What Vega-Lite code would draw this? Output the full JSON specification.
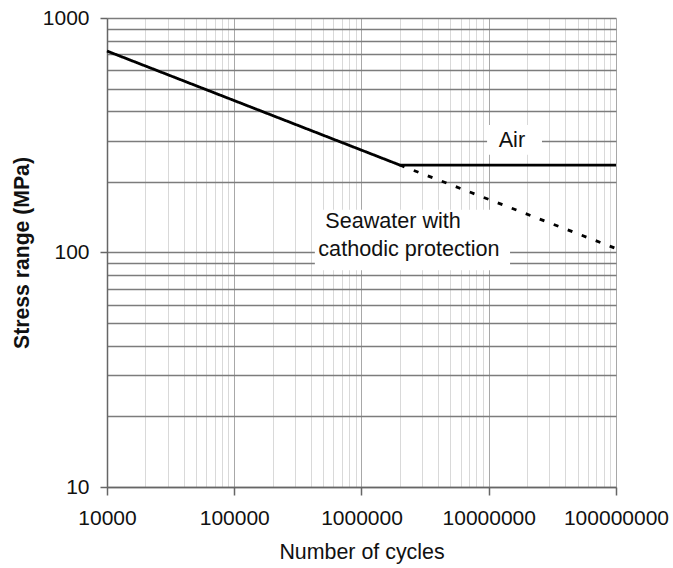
{
  "$schema": "https://vega.github.io/schema/vega-lite/v6.json",
  "width": 509,
  "height": 469,
  "autosize": {"type": "none"},
  "padding": {"left": 107, "top": 18, "right": 57, "bottom": 81},
  "background": "white",
  "config": {"view": {"stroke": null}, "font": "Liberation Sans"},
  "encoding": {
    "x": {
      "field": "cycles",
      "type": "quantitative",
      "title": "Number of cycles",
      "scale": {"type": "log", "domain": [10000, 100000000]},
      "axis": {
        "values": [10000, 20000, 30000, 40000, 50000, 60000, 70000, 80000, 90000, 100000, 200000, 300000, 400000, 500000, 600000, 700000, 800000, 900000, 1000000, 2000000, 3000000, 4000000, 5000000, 6000000, 7000000, 8000000, 9000000, 10000000, 20000000, 30000000, 40000000, 50000000, 60000000, 70000000, 80000000, 90000000, 100000000],
        "labelExpr": "indexof([10000,100000,1000000,10000000,100000000], datum.value) >= 0 ? datum.value + '' : ''",
        "labelOverlap": false,
        "labelFlush": false,
        "labelBound": false,
        "labelFontSize": 21,
        "labelColor": "#111",
        "labelPadding": 12,
        "grid": true,
        "gridColor": {"condition": {"test": "indexof([10000,100000,1000000,10000000,100000000], datum.value) >= 0", "value": "#a8a8a8"}, "value": "#d9d9d9"},
        "gridWidth": 1,
        "tickOpacity": {"condition": {"test": "indexof([10000,100000,1000000,10000000,100000000], datum.value) >= 0", "value": 1}, "value": 0},
        "tickColor": "#666",
        "tickWidth": 1.5,
        "tickSize": 8,
        "domainColor": "#666",
        "domainWidth": 1.5,
        "titleFontSize": 21.4,
        "titleFontWeight": "normal",
        "titleColor": "#111",
        "titleY": 65,
        "titleBaseline": "middle"
      }
    },
    "y": {
      "field": "stress",
      "type": "quantitative",
      "title": "Stress range (MPa)",
      "scale": {"type": "log", "domain": [10, 1000]},
      "axis": {
        "values": [10, 20, 30, 40, 50, 60, 70, 80, 90, 100, 200, 300, 400, 500, 600, 700, 800, 900, 1000],
        "labelExpr": "indexof([10,100,1000], datum.value) >= 0 ? datum.value + '' : ''",
        "labelOverlap": false,
        "labelFlush": false,
        "labelBound": false,
        "labelFontSize": 21,
        "labelColor": "#111",
        "labelPadding": 11,
        "grid": true,
        "gridColor": "#7c7c7c",
        "gridWidth": 1.4,
        "tickOpacity": {"condition": {"test": "indexof([10,100,1000], datum.value) >= 0", "value": 1}, "value": 0},
        "tickColor": "#666",
        "tickWidth": 1.5,
        "tickSize": 7,
        "domainColor": "#666",
        "domainWidth": 1.5,
        "titleFontSize": 21.2,
        "titleFontWeight": "bold",
        "titleColor": "#111",
        "titleAngle": -90,
        "titleX": -85,
        "titleY": 234.5,
        "titleAlign": "center",
        "titleBaseline": "middle"
      }
    }
  },
  "layer": [
    {
      "data": {"values": [
        {"label": "Air", "cycles": 9700000, "cycles2": 26200000, "stress": 261, "stress2": 350},
        {"label": "Seawater with cathodic protection", "cycles": 430000, "cycles2": 14700000, "stress": 84, "stress2": 152}
      ]},
      "mark": {"type": "rect", "fill": "white", "stroke": null},
      "encoding": {
        "x2": {"field": "cycles2"},
        "y2": {"field": "stress2"}
      }
    },
    {
      "data": {"values": [
        {"series": "Air", "cycles": 10000, "stress": 723},
        {"series": "Air", "cycles": 2000000, "stress": 236},
        {"series": "Air", "cycles": 100000000, "stress": 236},
        {"series": "Seawater with cathodic protection", "cycles": 2000000, "stress": 236},
        {"series": "Seawater with cathodic protection", "cycles": 100000000, "stress": 104}
      ]},
      "mark": {"type": "line", "color": "black", "strokeWidth": 2.8},
      "encoding": {
        "strokeDash": {
          "field": "series",
          "type": "nominal",
          "scale": {"domain": ["Air", "Seawater with cathodic protection"], "range": [[1, 0], [5, 10]]},
          "legend": null
        }
      }
    },
    {
      "data": {"values": [
        {"cycles": 15200000, "stress": 300, "text": "Air"},
        {"cycles": 1770000, "stress": 135, "text": "Seawater with"},
        {"cycles": 2360000, "stress": 102.5, "text": "cathodic protection"}
      ]},
      "mark": {"type": "text", "fontSize": 21.6, "color": "#111", "font": "Liberation Sans"},
      "encoding": {
        "text": {"field": "text", "type": "nominal"}
      }
    }
  ]
}
